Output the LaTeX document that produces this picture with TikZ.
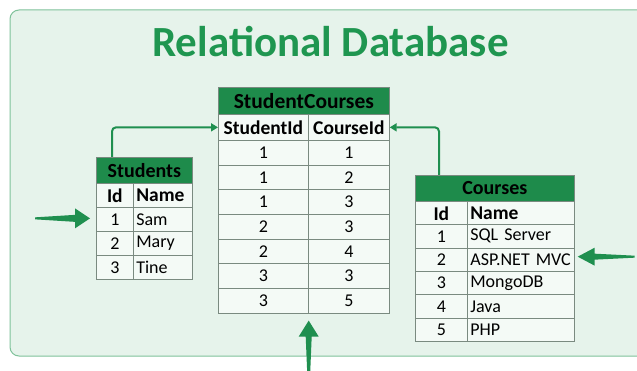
\documentclass[tikz,border=0pt]{standalone}
\usepackage{fontspec}
\setmainfont{Carlito}
\usetikzlibrary{arrows.meta,calc}
\definecolor{bgc}{HTML}{E6F3EB}
\definecolor{bordc}{HTML}{7FC29A}
\definecolor{hdrc}{HTML}{1E8B4B}
\definecolor{titc}{HTML}{1F9650}
\definecolor{gridc}{HTML}{7A8A80}
\definecolor{cellc}{HTML}{F4FAF6}
\definecolor{arrc}{HTML}{1F8F4F}
\tikzset{
  cellbase/.style={draw=gridc, line width=0.7pt, inner sep=0pt, anchor=north west, fill=cellc, font=\fontsize{18}{21}\selectfont},
  hdr/.style={cellbase, fill=hdrc, font=\bfseries\fontsize{20}{23}\selectfont},
  ccell/.style={cellbase, minimum width=#1},
  lcell/.style={cellbase, text width={#1pt-6pt}, inner xsep=3pt, align=left},
  bold/.style={font=\bfseries\fontsize{19.5}{22}\selectfont},
  link/.style={draw=arrc, line width=2pt, rounded corners=4pt, -{Triangle[length=7pt,width=8pt]}},
  bigarrow/.style={fill=arrc}
}
\begin{document}
\begin{tikzpicture}[x=1pt,y=-1pt]
\useasboundingbox (0,0) rectangle (637,371);
\clip (0,0) rectangle (637,371);
\fill[white] (0,0) rectangle (637,371);
\draw[bordc, fill=bgc, line width=1pt, rounded corners=9pt] (10,10) rectangle (660,356);

\node[font=\bfseries\fontsize{43}{50}\selectfont, text=titc, anchor=base] (title) at (330.5,57) {Relational Database};

% Students
\node[hdr, minimum width=96, minimum height=26] (stuHead) at (96,157) {Students};
\node[ccell=37, minimum height=24, bold] (stuId0) at (96,183) {Id};
\node[lcell=59, minimum height=24, bold] (stuName0) at (133,183) {Name};
\foreach \i/\n [count=\k] in {1/Sam,2/Mary,3/Tine}{
  \node[ccell=37, minimum height=24] (stuId\k) at (96,183+24*\k) {\i};
  \node[lcell=59, minimum height=24] (stuName\k) at (133,183+24*\k) {\mbox{\n}};
}

% StudentCourses
\node[hdr, minimum width=171, minimum height=27, font=\bfseries\fontsize{21.5}{24}\selectfont] (scHead) at (218,87) {StudentCourses};
\node[ccell=90, minimum height=26, bold] (sch1) at (218,114) {StudentId};
\node[ccell=81, minimum height=26, bold] (sch2) at (308,114) {CourseId};
\foreach \a/\b [count=\k] in {1/1,1/2,1/3,2/3,2/4,3/3,3/5}{
  \node[ccell=90, minimum height=24.7] (scA\k) at (218,140+24.7*\k-24.7) {\a};
  \node[ccell=81, minimum height=24.7] (scB\k) at (308,140+24.7*\k-24.7) {\b};
}

% Courses
\node[hdr, minimum width=159, minimum height=26] (coHead) at (415,175) {Courses};
\node[ccell=52, minimum height=24, bold] (coId0) at (415,201) {Id};
\node[lcell=107, minimum height=24, bold] (coName0) at (467,201) {Name};
\foreach \i/\n [count=\k] in {1/SQL Server,2/ASP.NET MVC,3/MongoDB,4/Java,5/PHP}{
  \node[ccell=52, minimum height=23.33] (coId\k) at (415,201+23.33*\k) {\i};
  \node[lcell=107, minimum height=23.33] (coName\k) at (467,201+23.33*\k) {\mbox{\n}};
}

% connectors
\draw[link] ([xshift=16pt]stuHead.north west) |- (sch1.west);
\draw[link] ([xshift=24pt]coHead.north west) |- (sch2.east);

% big arrows
\coordinate (tipL) at ($(stuId1.west)+(-6,-1)$);
\coordinate (tipR) at ($(coName2.east)+(3,-3)$);
\coordinate (tipB) at ($(scA7.south east)+(0,7)$);
\begin{scope}[shift={(tipL)}]
\fill[bigarrow] (0,0) -- (-15,-10) -- (-15,-3.5) -- (-55,-1) -- (-55,1) -- (-15,3.5) -- (-15,10) -- cycle;
\end{scope}
\begin{scope}[shift={(tipR)}]
\fill[bigarrow] (0,0) -- (17,-9) -- (17,-3) -- (57,-1) -- (57,1) -- (17,3) -- (17,9) -- cycle;
\end{scope}
\begin{scope}[shift={(tipB)}]
\fill[bigarrow] (0,0) -- (10,16) -- (3,16) -- (1.5,52) -- (-1.5,52) -- (-3,16) -- (-10,16) -- cycle;
\end{scope}
\end{tikzpicture}
\end{document}
